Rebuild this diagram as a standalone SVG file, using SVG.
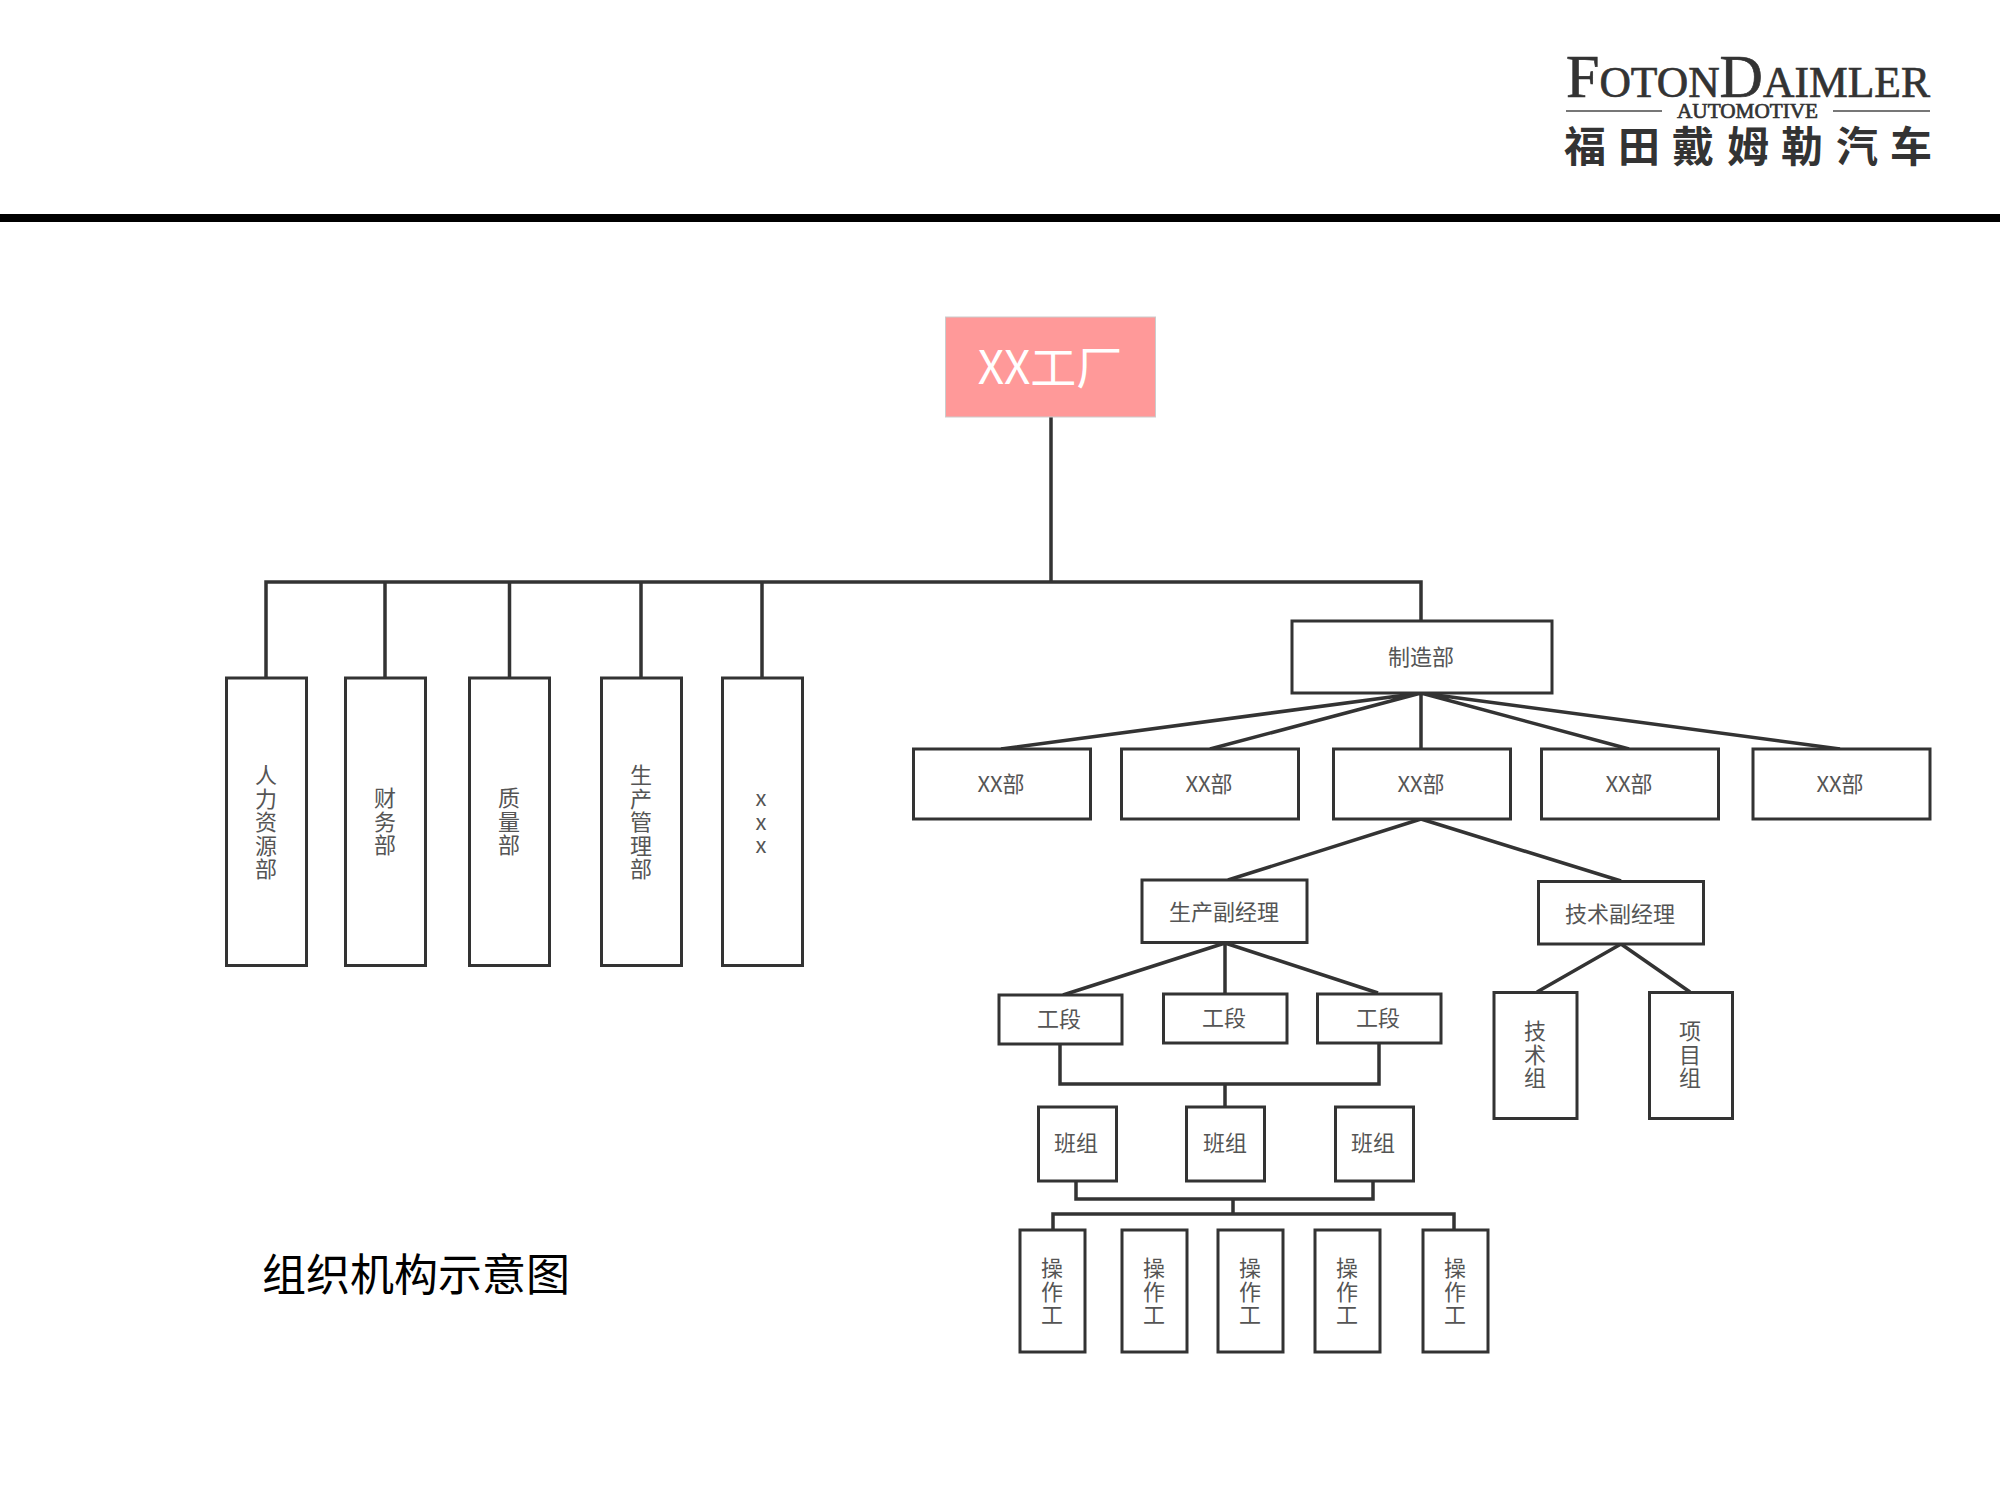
<svg xmlns="http://www.w3.org/2000/svg" width="2000" height="1500" viewBox="0 0 2000 1500">
<style>
text{font-family:"Noto Sans CJK SC","Noto Sans",sans-serif;text-anchor:middle}
.b{fill:#fff;stroke:#333;stroke-width:3}
.c{fill:none;stroke:#333;stroke-width:3.5}
.t{font-size:22px;fill:#555}
.l{fill:#333;stroke:#333;stroke-width:.7;font-family:"Liberation Serif","Noto Serif",serif}
</style>
<rect width="2000" height="1500" fill="#fff"/>
<g id="logo">
<text class="l" x="1566" y="97" textLength="364" lengthAdjust="spacingAndGlyphs" style="text-anchor:start;font-size:45px"><tspan font-size="62">F</tspan>OTON<tspan font-size="62">D</tspan>AIMLER</text>
<text class="l" x="1677" y="118" textLength="141" lengthAdjust="spacingAndGlyphs" style="text-anchor:start;font-size:22px">AUTOMOTIVE</text>
<path d="M1566 111H1662M1833 111H1930" stroke="#777" stroke-width="2" fill="none"/>
<text x="1585 1639 1693 1748 1802 1857 1911" y="162" style="font-size:42px;fill:#333;font-weight:700">福田戴姆勒汽车</text>
</g>
<rect id="header-bar" x="0" y="214" width="2000" height="8" fill="#000"/>
<g id="connectors">
<path class="c" d="M1051 417V582M266 677V582H1421V621M385 582V677M509.500 582V677M641 582V677M762 582V677"/>
<path class="c" d="M1421 693L1001 749M1421 693L1210 749M1421 693V749M1421 693L1629 749M1421 693L1840 749"/>
<path class="c" d="M1421 819L1228 880M1421 819L1621 881"/>
<path class="c" d="M1225 943L1063 995M1225 943V993M1225 943L1378 993"/>
<path class="c" d="M1621 944L1537 992M1621 944L1690 992"/>
<path class="c" d="M1060 1044V1084H1379V1043M1225 1084V1107"/>
<path class="c" d="M1076 1181V1199H1373V1181M1233 1199V1214M1053 1230V1214H1454V1230"/>
</g>
<g id="root"><rect x="945.500" y="317" width="210" height="100" fill="#ff9999" stroke="#ccc" stroke-width="1"/><text x="1050" y="384" style="font-size:46px;fill:#fff">XX工厂</text></g>
<g id="n-hr"><rect class="b" x="226.500" y="678" width="80" height="287.500"/><text class="t"><tspan x="266" y="783">人</tspan><tspan x="266" dy="23.500">力</tspan><tspan x="266" dy="23.500">资</tspan><tspan x="266" dy="23.500">源</tspan><tspan x="266" dy="23.500">部</tspan></text></g>
<g id="n-fin"><rect class="b" x="345.500" y="678" width="80" height="287.500"/><text class="t"><tspan x="385" y="806">财</tspan><tspan x="385" dy="23.500">务</tspan><tspan x="385" dy="23.500">部</tspan></text></g>
<g id="n-qa"><rect class="b" x="469.500" y="678" width="80" height="287.500"/><text class="t"><tspan x="509" y="806">质</tspan><tspan x="509" dy="23.500">量</tspan><tspan x="509" dy="23.500">部</tspan></text></g>
<g id="n-prod"><rect class="b" x="601.500" y="678" width="80" height="287.500"/><text class="t"><tspan x="641" y="783">生</tspan><tspan x="641" dy="23.500">产</tspan><tspan x="641" dy="23.500">管</tspan><tspan x="641" dy="23.500">理</tspan><tspan x="641" dy="23.500">部</tspan></text></g>
<g id="n-x"><rect class="b" x="722.500" y="678" width="80" height="287.500"/><text class="t"><tspan x="761" y="806">x</tspan><tspan x="761" dy="23.500">x</tspan><tspan x="761" dy="23.500">x</tspan></text></g>
<g id="n-mfg"><rect class="b" x="1292" y="621" width="260" height="72"/><text class="t" x="1421" y="664.500">制造部</text></g>
<g id="n-d1"><rect class="b" x="913.500" y="749" width="177" height="70"/><text class="t" x="1001" y="791.500">XX部</text></g>
<g id="n-d2"><rect class="b" x="1121.500" y="749" width="177" height="70"/><text class="t" x="1209" y="791.500">XX部</text></g>
<g id="n-d3"><rect class="b" x="1333.500" y="749" width="177" height="70"/><text class="t" x="1421" y="791.500">XX部</text></g>
<g id="n-d4"><rect class="b" x="1541.500" y="749" width="177" height="70"/><text class="t" x="1629" y="791.500">XX部</text></g>
<g id="n-d5"><rect class="b" x="1753" y="749" width="177" height="70"/><text class="t" x="1840" y="791.500">XX部</text></g>
<g id="n-vp1"><rect class="b" x="1142" y="880" width="165" height="62.500"/><text class="t" x="1224" y="920">生产副经理</text></g>
<g id="n-vp2"><rect class="b" x="1538.500" y="881.500" width="165" height="62.500"/><text class="t" x="1620" y="921.500">技术副经理</text></g>
<g id="n-s1"><rect class="b" x="999" y="995" width="123" height="49"/><text class="t" x="1059" y="1027">工段</text></g>
<g id="n-s2"><rect class="b" x="1163.500" y="994" width="123.500" height="49"/><text class="t" x="1224" y="1026">工段</text></g>
<g id="n-s3"><rect class="b" x="1317.500" y="994" width="123.500" height="49"/><text class="t" x="1378" y="1026">工段</text></g>
<g id="n-t1"><rect class="b" x="1494" y="992.500" width="83" height="126"/><text class="t"><tspan x="1535" y="1039">技</tspan><tspan x="1535" dy="23.500">术</tspan><tspan x="1535" dy="23.500">组</tspan></text></g>
<g id="n-t2"><rect class="b" x="1649.500" y="992.500" width="83" height="126"/><text class="t"><tspan x="1690" y="1039">项</tspan><tspan x="1690" dy="23.500">目</tspan><tspan x="1690" dy="23.500">组</tspan></text></g>
<g id="n-g1"><rect class="b" x="1038.500" y="1107" width="78" height="74"/><text class="t" x="1076" y="1151">班组</text></g>
<g id="n-g2"><rect class="b" x="1186.500" y="1107" width="78" height="74"/><text class="t" x="1225" y="1151">班组</text></g>
<g id="n-g3"><rect class="b" x="1335.500" y="1107" width="78" height="74"/><text class="t" x="1373" y="1151">班组</text></g>
<g id="n-w1"><rect class="b" x="1020" y="1230" width="65" height="122"/><text class="t"><tspan x="1052" y="1276">操</tspan><tspan x="1052" dy="23.500">作</tspan><tspan x="1052" dy="23.500">工</tspan></text></g>
<g id="n-w2"><rect class="b" x="1122" y="1230" width="65" height="122"/><text class="t"><tspan x="1154" y="1276">操</tspan><tspan x="1154" dy="23.500">作</tspan><tspan x="1154" dy="23.500">工</tspan></text></g>
<g id="n-w3"><rect class="b" x="1218" y="1230" width="65" height="122"/><text class="t"><tspan x="1250" y="1276">操</tspan><tspan x="1250" dy="23.500">作</tspan><tspan x="1250" dy="23.500">工</tspan></text></g>
<g id="n-w4"><rect class="b" x="1315" y="1230" width="65" height="122"/><text class="t"><tspan x="1347" y="1276">操</tspan><tspan x="1347" dy="23.500">作</tspan><tspan x="1347" dy="23.500">工</tspan></text></g>
<g id="n-w5"><rect class="b" x="1423" y="1230" width="65" height="122"/><text class="t"><tspan x="1455" y="1276">操</tspan><tspan x="1455" dy="23.500">作</tspan><tspan x="1455" dy="23.500">工</tspan></text></g>
<text id="caption" x="416" y="1291" style="font-size:44px;fill:#000">组织机构示意图</text>
</svg>
